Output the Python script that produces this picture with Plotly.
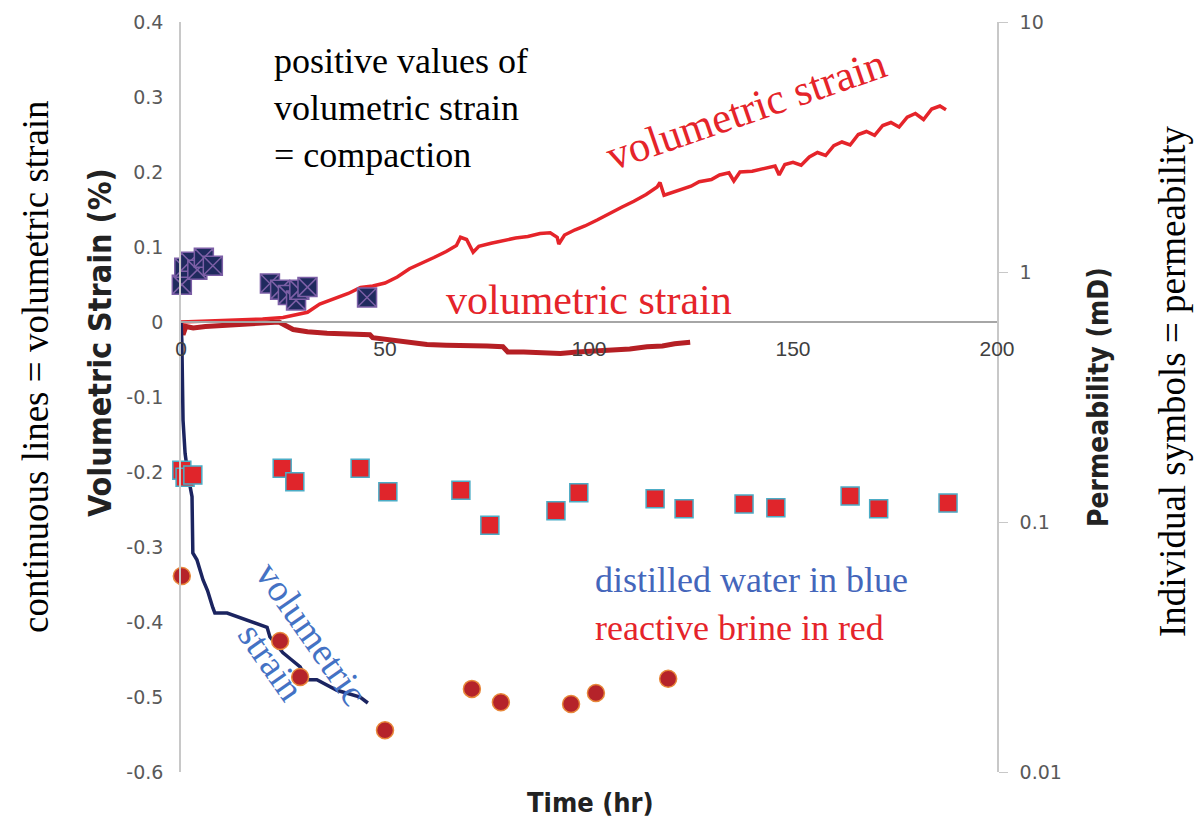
import plotly.graph_objects as go

# ---------------- data ----------------
# reactive brine (bright red) volumetric strain
brine1_t = [0, 5, 10, 15, 20, 25, 28, 31, 34, 37, 41, 44, 47, 50, 53, 56, 59, 62, 65, 67.5, 68.5, 70, 71.6, 73, 76, 79,
            82, 85, 88, 90.5, 92.2, 92.6, 94, 96.6, 99, 102, 105, 108, 111, 114, 116.7, 117.4, 118.4, 120, 122, 125,
            127, 130, 132, 134.3, 135.5, 137, 140, 143, 145.6, 146.6, 148, 150, 152, 154, 156, 158, 160, 162, 164,
            166, 168, 170, 172, 174, 176, 178, 180, 182, 184, 186, 187.5]
brine1_strain = [0.000, 0.001, 0.002, 0.002, 0.004, 0.006, 0.010, 0.013, 0.024, 0.030, 0.038, 0.046, 0.048, 0.052,
                 0.060, 0.071, 0.078, 0.086, 0.094, 0.102, 0.113, 0.110, 0.093, 0.101, 0.105, 0.109, 0.112, 0.114,
                 0.118, 0.119, 0.113, 0.104, 0.116, 0.123, 0.128, 0.136, 0.145, 0.153, 0.161, 0.170, 0.180, 0.186,
                 0.169, 0.172, 0.176, 0.181, 0.187, 0.190, 0.196, 0.199, 0.188, 0.200, 0.201, 0.205, 0.208, 0.196,
                 0.210, 0.213, 0.209, 0.220, 0.226, 0.222, 0.235, 0.240, 0.236, 0.250, 0.254, 0.249, 0.262, 0.266,
                 0.260, 0.273, 0.278, 0.270, 0.284, 0.288, 0.283]

# reactive brine (dark red) volumetric strain
brine2_t = [0, 0.5, 1.2, 3, 6, 11, 16, 21, 24, 27.5, 31, 35.8, 40, 46.3, 47, 52, 56, 60.3, 65, 70.8, 75, 78.9, 80.1,
            84, 88.7, 93, 97.1, 101, 105.9, 110, 114.2, 118, 121, 124.8]
brine2_strain = [0, -0.017, -0.006, -0.008, -0.006, -0.004, -0.003, -0.001, 0.000, -0.010, -0.013, -0.015, -0.016,
                 -0.017, -0.021, -0.024, -0.027, -0.030, -0.031, -0.031, -0.032, -0.033, -0.040, -0.040, -0.041,
                 -0.042, -0.040, -0.039, -0.037, -0.036, -0.033, -0.032, -0.029, -0.027]

# distilled water (navy) volumetric strain
water_t = [0, 0.2, 0.5, 1.0, 1.7, 2.2, 2.7, 2.9, 3.9, 5.4, 6.5, 7.8, 8.3, 11.3, 16.2, 21.1, 21.8, 25, 27, 29.2, 30.9,
           33.3, 38.2, 43.9, 45.8]
water_strain = [0, -0.024, -0.131, -0.175, -0.204, -0.22, -0.233, -0.308, -0.317, -0.344, -0.358, -0.381, -0.388,
                -0.388, -0.397, -0.407, -0.42, -0.441, -0.45, -0.46, -0.477, -0.477, -0.491, -0.5, -0.508]

# permeability symbols (mD)
water_perm_t = [0.2, 0.8, 2.2, 4.0, 5.6, 7.8, 21.8, 24.3, 26.2, 28.2, 29.0, 31.0, 45.6]
water_perm = [0.89, 1.04, 1.10, 1.02, 1.14, 1.06, 0.90, 0.85, 0.81, 0.77, 0.85, 0.87, 0.79]

brine_sq_t = [0.2, 1.0, 2.9, 24.8, 27.9, 43.9, 50.7, 68.6, 75.7, 91.9, 97.5, 116.2, 123.3, 138.0, 145.8, 164.0,
              171.0, 188.0]
brine_sq_perm = [0.161, 0.151, 0.154, 0.164, 0.145, 0.164, 0.132, 0.134, 0.097, 0.111, 0.131, 0.124, 0.113, 0.118,
                 0.114, 0.127, 0.113, 0.119]

brine_ci_t = [0.2, 24.3, 29.2, 50.0, 71.3, 78.4, 95.6, 101.7, 119.4]
brine_ci_perm = [0.0608, 0.0334, 0.024, 0.0147, 0.0215, 0.019, 0.0187, 0.0207, 0.0236]

x_ticks = [0, 50, 100, 150, 200]
y_ticks = [0.4, 0.3, 0.2, 0.1, 0, -0.1, -0.2, -0.3, -0.4, -0.5, -0.6]
y_ticktext = ["0.4", "0.3", "0.2", "0.1", "0", "-0.1", "-0.2", "-0.3", "-0.4", "-0.5", "-0.6"]
y2_ticks = [0.01, 0.1, 1, 10]
y2_ticktext = ["0.01", "0.1", "1", "10"]

# ---------------- figure ----------------
W, H = 1196, 819
ML, MR, MT, MB = 181, 199, 22, 47
PW, PH = W - ML - MR, H - MT - MB


def px(x):
    return (x - ML) / PW


def py(y):
    return (H - MB - y) / PH


fig = go.Figure()

fig.add_trace(go.Scatter(x=brine2_t, y=brine2_strain, mode="lines",
                         line=dict(color="#b51f24", width=5), yaxis="y", hoverinfo="skip"))
fig.add_trace(go.Scatter(x=brine1_t, y=brine1_strain, mode="lines",
                         line=dict(color="#e5242a", width=3.5), yaxis="y", hoverinfo="skip"))
fig.add_trace(go.Scatter(x=water_t, y=water_strain, mode="lines",
                         line=dict(color="#1b2460", width=3.5), yaxis="y", hoverinfo="skip"))

fig.add_trace(go.Scatter(x=water_perm_t, y=water_perm, mode="markers", yaxis="y2", cliponaxis=False,
                         marker=dict(symbol="square-x", size=19, color="#1f2a5e",
                                     line=dict(color="#7c5fa6", width=1.5))))
fig.add_trace(go.Scatter(x=brine_sq_t, y=brine_sq_perm, mode="markers", yaxis="y2", cliponaxis=False,
                         marker=dict(symbol="square", size=18, color="#e0252b",
                                     line=dict(color="#4bacc6", width=1.5))))
fig.add_trace(go.Scatter(x=brine_ci_t, y=brine_ci_perm, mode="markers", yaxis="y2", cliponaxis=False,
                         marker=dict(symbol="circle", size=17, color="#b5232a",
                                     line=dict(color="#e8883a", width=1.5))))

serif = "Liberation Serif, Times New Roman, serif"
sansb = "DejaVu Sans Condensed, DejaVu Sans, sans-serif"

fig.update_layout(
    width=W, height=H,
    margin=dict(l=ML, r=MR, t=MT, b=MB),
    paper_bgcolor="white", plot_bgcolor="white",
    showlegend=False,
    xaxis=dict(range=[0, 200], tickvals=x_ticks, ticktext=[str(v) for v in x_ticks],
               showline=True, linecolor="#a6a6a6", linewidth=1.5, showgrid=False, zeroline=False,
               ticks="", anchor="free", position=0.6, ticklabelstandoff=8,
               tickfont=dict(family="Liberation Sans, sans-serif", size=21, color="#404040")),
    yaxis=dict(range=[-0.6, 0.4], tickvals=y_ticks, ticktext=y_ticktext,
               showline=True, linecolor="#c8c8c8", linewidth=1.5, showgrid=False, zeroline=False,
               ticks="", ticklabelstandoff=12,
               tickfont=dict(family="DejaVu Sans, sans-serif", size=19, color="#595959")),
    yaxis2=dict(type="log", range=[-2, 1], overlaying="y", side="right", anchor="x",
                tickvals=y2_ticks, ticktext=y2_ticktext,
                showline=True, linecolor="#c8c8c8", linewidth=1.5, showgrid=False, zeroline=False,
                ticks="outside", ticklen=9, tickcolor="#c8c8c8", ticklabelstandoff=8,
                tickfont=dict(family="DejaVu Sans, sans-serif", size=19, color="#595959")),
)

ann = [
    dict(text="positive values of<br>volumetric strain<br>= compaction", x=px(272), y=py(108),
         xanchor="left", yanchor="middle", align="left", font=dict(family=serif, size=36, color="black")),
    dict(text="volumetric strain", x=px(746), y=py(110), textangle=-19,
         font=dict(family=serif, size=43, color="#e5242a")),
    dict(text="volumetric strain", x=px(589), y=py(300),
         font=dict(family=serif, size=42, color="#e5242a")),
    dict(text="volumetric<br>strain", x=px(292), y=py(647), textangle=55,
         font=dict(family=serif, size=38, color="#4472c4")),
    dict(text="distilled water in blue", x=px(593), y=py(580), xanchor="left",
         font=dict(family=serif, size=36, color="#4466bb")),
    dict(text="reactive brine in red", x=px(593), y=py(628), xanchor="left",
         font=dict(family=serif, size=36, color="#e5242a")),
    dict(text="continuous lines = volumetric strain", x=px(35), y=py(367), textangle=-90,
         font=dict(family=serif, size=37, color="black")),
    dict(text="<b>Volumetric Strain (%)</b>", x=px(100), y=py(343), textangle=-90,
         font=dict(family=sansb, size=32, color="#222222")),
    dict(text="<b>Permeability (mD)</b>", x=px(1098), y=py(397), textangle=-90,
         font=dict(family=sansb, size=28, color="#222222")),
    dict(text="Individual symbols = permeability", x=px(1172), y=py(381), textangle=-90,
         font=dict(family=serif, size=37, color="black")),
    dict(text="<b>Time (hr)</b>", x=px(590), y=py(802),
         font=dict(family=sansb, size=27, color="#222222")),
]
for a in ann:
    a.setdefault("xanchor", "center")
    a.setdefault("yanchor", "middle")
    a.update(xref="paper", yref="paper", showarrow=False)
fig.update_layout(annotations=ann)

fig.write_html("out.html")
